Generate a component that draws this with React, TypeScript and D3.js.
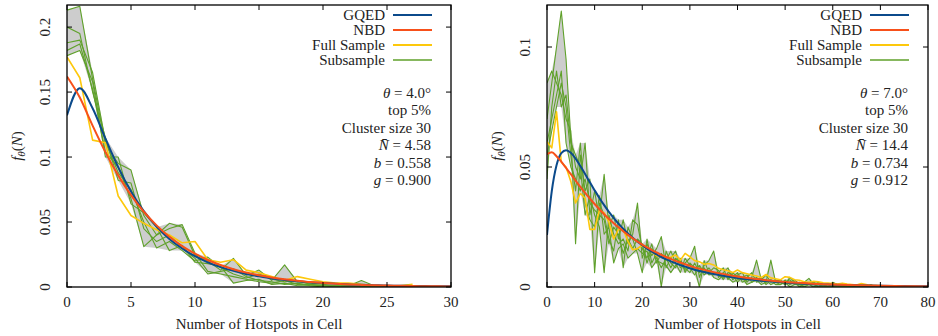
import * as d3 from "d3";
import React, { useEffect, useRef } from "react";

// ---------- left panel: theta = 4.0 deg ----------
const leftModelN = [0, 1, 2, 3, 4, 5, 6, 7, 8, 9, 10, 11, 12, 13, 14, 15, 16, 17, 18, 19, 20, 21, 22, 23, 24, 25, 26, 27, 28, 29, 30];
const leftGqed = [0.1321, 0.153, 0.1375, 0.1143, 0.0922, 0.0735, 0.0584, 0.0465, 0.037, 0.0296, 0.0237, 0.019, 0.0153, 0.0124, 0.01, 0.0082, 0.0066, 0.0054, 0.0044, 0.0036, 0.003, 0.0025, 0.002, 0.0017, 0.0014, 0.0011, 0.001, 0.0008, 0.0007, 0.0006, 0.0005];
const leftNbd = [0.162, 0.1458, 0.1242, 0.1038, 0.0859, 0.0707, 0.0579, 0.0474, 0.0386, 0.0315, 0.0256, 0.0208, 0.0169, 0.0137, 0.0111, 0.009, 0.0073, 0.0059, 0.0048, 0.0038, 0.0031, 0.0025, 0.002, 0.0016, 0.0013, 0.0011, 0.0009, 0.0007, 0.0006, 0.0005, 0.0004];
const leftFull = [0.177, 0.161, 0.113, 0.111, 0.07, 0.055, 0.049, 0.044, 0.04, 0.034, 0.035, 0.021, 0.019, 0.021, 0.013, 0.011, 0.008, 0.005, 0.008, 0.006, 0.004, 0.003, 0.003, 0.002, 0.001, 0.001, 0.001, 0.002];
const leftSubA = [0.213, 0.216, 0.16, 0.11, 0.095, 0.09, 0.055, 0.04, 0.049, 0.046, 0.024, 0.02, 0.013, 0.022, 0.009, 0.013, 0.005, 0.017, 0.004, 0.003, 0.002, 0.001, 0.001, 0.005, 0.001, 0];
const leftSubB = [0.188, 0.19, 0.165, 0.112, 0.088, 0.075, 0.05, 0.03, 0.035, 0.028, 0.02, 0.023, 0.015, 0.01, 0.007, 0.01, 0.006, 0.004, 0.005, 0.002, 0.001, 0.001, 0.001, 0, 0.001, 0];
const leftSubC = [0.182, 0.187, 0.152, 0.104, 0.092, 0.068, 0.031, 0.04, 0.045, 0.048, 0.026, 0.012, 0.01, 0.008, 0.006, 0.004, 0.003, 0.005, 0.002, 0.002, 0.001, 0.001, 0, 0, 0, 0];
const leftSubD = [0.178, 0.182, 0.158, 0.1, 0.1, 0.064, 0.057, 0.046, 0.028, 0.032, 0.019, 0.018, 0.016, 0.003, 0.005, 0.006, 0.002, 0.003, 0.001, 0.001, 0.001, 0, 0, 0, 0, 0];
const leftSubE = [0.2, 0.195, 0.15, 0.115, 0.082, 0.08, 0.045, 0.035, 0.04, 0.03, 0.022, 0.01, 0.012, 0.014, 0.008, 0.005, 0.004, 0.002, 0.003, 0.001, 0, 0, 0, 0, 0, 0];
const leftXTicks = [0, 5, 10, 15, 20, 25, 30];
const leftYTicks = [0, 0.05, 0.1, 0.15, 0.2];
const leftNotes = ["θ = 4.0°", "top 5%", "Cluster size 30", "N̄ = 4.58", "b = 0.558", "g = 0.900"];

// ---------- right panel: theta = 7.0 deg ----------
const rightModelN = [0, 1, 2, 3, 4, 5, 6, 7, 8, 9, 10, 11, 12, 13, 14, 15, 16, 17, 18, 19, 20, 21, 22, 23, 24, 25, 26, 27, 28, 29, 30, 35, 40, 45, 50, 55, 60, 65, 70, 75, 80];
const rightGqed = [0.0217, 0.0399, 0.0507, 0.0558, 0.057, 0.0559, 0.0535, 0.0504, 0.0471, 0.0436, 0.0403, 0.0371, 0.0341, 0.0313, 0.0288, 0.0264, 0.0243, 0.0223, 0.0205, 0.0189, 0.0174, 0.016, 0.0147, 0.0136, 0.0125, 0.0116, 0.0107, 0.0099, 0.0091, 0.0085, 0.0078, 0.0054, 0.0037, 0.0026, 0.0019, 0.0013, 0.00097, 0.0007, 0.00051, 0.00037, 0.00027];
const rightNbd = [0.0554, 0.0561, 0.0545, 0.0522, 0.0496, 0.047, 0.0443, 0.0417, 0.0392, 0.0368, 0.0346, 0.0324, 0.0303, 0.0284, 0.0266, 0.0249, 0.0232, 0.0217, 0.0203, 0.0189, 0.0177, 0.0165, 0.0154, 0.0144, 0.0134, 0.0125, 0.0117, 0.0109, 0.0102, 0.0095, 0.0088, 0.0062, 0.0044, 0.0031, 0.0021, 0.0015, 0.001, 0.0007, 0.0005, 0.00035, 0.00024];
const rightFull = [0.0605, 0.058, 0.073, 0.052, 0.05, 0.044, 0.035, 0.039, 0.037, 0.024, 0.024, 0.032, 0.031, 0.027, 0.02, 0.024, 0.024, 0.019, 0.0155, 0.016, 0.0175, 0.016, 0.0146, 0.013, 0.0126, 0.012, 0.0125, 0.0133, 0.0112, 0.014, 0.0126, 0.011, 0.0105, 0.0095, 0.0098, 0.0092, 0.0078, 0.0072, 0.0068, 0.006, 0.0071, 0.006, 0.0055, 0.005, 0.0046, 0.004, 0.0052, 0.0038, 0.0034, 0.003, 0.0043, 0.004, 0.003, 0.0028, 0.0022, 0.002, 0.0024, 0.0022, 0.0018, 0.0016, 0.0014, 0.0012, 0.0016, 0.0012, 0.001, 0.0008, 0.0014, 0.001, 0.0006, 0.0006, 0.0005, 0.0004, 0.0003, 0.0004, 0.0003, 0.0002, 0.0002, 0.0002, 0.0001];
const rightSubA = [0.07, 0.085, 0.1, 0.115, 0.095, 0.062, 0.05, 0.045, 0.06, 0.03, 0.04, 0.028, 0.047, 0.025, 0.03, 0.02, 0.028, 0.018, 0.022, 0.035, 0.012, 0.018, 0.013, 0.016, 0.021, 0.008, 0.012, 0.015, 0.008, 0.01, 0.012, 0.017, 0.004, 0.009, 0.011, 0.015, 0.004, 0.006, 0.008, 0.003, 0.005, 0.006, 0.002, 0.004, 0.0112, 0.003, 0.002, 0.0112, 0.002, 0.003, 0.001, 0.004, 0.002, 0.001, 0.002, 0.0036, 0.001, 0.002, 0.001, 0, 0.002, 0.001, 0, 0.001, 0, 0.001, 0, 0, 0.001, 0, 0.0008, 0, 0, 0.0004, 0, 0, 0, 0.0002, 0];
const rightSubB = [0.085, 0.09, 0.085, 0.08, 0.07, 0.065, 0.018, 0.055, 0.04, 0.045, 0.006, 0.035, 0.03, 0.02, 0.015, 0.028, 0.008, 0.025, 0.02, 0.014, 0.006, 0.02, 0.01, 0.014, 0, 0.015, 0.01, 0.008, 0.012, 0.006, 0.01, 0.008, 0, 0.011, 0.006, 0.008, 0.007, 0.003, 0.006, 0.005, 0.002, 0.004, 0.005, 0.002, 0.003, 0.004, 0.001, 0.003, 0.002, 0.001, 0.003, 0.001, 0.002, 0, 0.001, 0.002, 0.001, 0, 0.001, 0.001, 0, 0.001, 0, 0, 0.001, 0, 0, 0.0005, 0, 0, 0, 0.0003, 0, 0, 0, 0, 0, 0, 0];
const rightSubC = [0.045, 0.075, 0.09, 0.075, 0.08, 0.06, 0.055, 0.05, 0.03, 0.038, 0.03, 0.025, 0.006, 0.03, 0.022, 0.018, 0.02, 0.015, 0.028, 0.026, 0.016, 0.012, 0.018, 0.01, 0.014, 0.011, 0.015, 0.01, 0.006, 0.012, 0.009, 0.007, 0.009, 0.006, 0.008, 0.005, 0.006, 0.008, 0.003, 0.006, 0.004, 0.003, 0.004, 0.006, 0.002, 0.003, 0.005, 0.002, 0.003, 0.002, 0.002, 0.003, 0.001, 0.002, 0.001, 0.001, 0.002, 0.001, 0, 0.001, 0.001, 0, 0.001, 0, 0, 0.0005, 0, 0, 0, 0.0003, 0, 0, 0, 0, 0, 0, 0, 0, 0];
const rightSubD = [0.06, 0.07, 0.08, 0.09, 0.06, 0.05, 0.045, 0.04, 0.045, 0.035, 0.032, 0.03, 0.028, 0.018, 0.025, 0.022, 0.014, 0.02, 0.016, 0.02, 0.018, 0.01, 0.016, 0.012, 0.008, 0.012, 0.008, 0.012, 0.01, 0.008, 0.006, 0.01, 0.006, 0.008, 0.005, 0.006, 0.005, 0.004, 0.005, 0.004, 0.006, 0.002, 0.003, 0.003, 0.004, 0.002, 0.003, 0.001, 0.002, 0.002, 0.001, 0.002, 0.003, 0.001, 0.001, 0.001, 0, 0.001, 0.001, 0, 0, 0.0005, 0, 0.0005, 0, 0, 0, 0, 0, 0, 0, 0, 0, 0, 0, 0, 0, 0, 0];
const rightSubE = [0.055, 0.065, 0.075, 0.085, 0.075, 0.055, 0.04, 0.06, 0.035, 0.028, 0.025, 0.038, 0.022, 0.025, 0.01, 0.016, 0.018, 0.012, 0.014, 0.016, 0.014, 0.015, 0.008, 0.011, 0.01, 0.009, 0.006, 0.009, 0.011, 0.007, 0.008, 0.005, 0.008, 0.005, 0.007, 0.004, 0.003, 0.005, 0.004, 0.002, 0.003, 0.004, 0.001, 0.002, 0.003, 0.001, 0.002, 0.003, 0.001, 0.001, 0.002, 0, 0.001, 0.001, 0, 0.001, 0, 0, 0.0005, 0, 0.0005, 0, 0, 0, 0, 0, 0, 0, 0, 0, 0, 0, 0, 0, 0, 0, 0, 0, 0];
const rightXTicks = [0, 10, 20, 30, 40, 50, 60, 70, 80];
const rightYTicks = [0, 0.05, 0.1];
const rightNotes = ["θ = 7.0°", "top 5%", "Cluster size 30", "N̄ = 14.4", "b = 0.734", "g = 0.912"];

const legendLabels = ["GQED", "NBD", "Full Sample", "Subsample"];

const colors = {
  gqed: "#0b4a8b",
  nbd: "#f7501a",
  full: "#fdc80c",
  sub: "#5fa12a",
  band: "#cdcdcd",
};
const FONT = "'Liberation Serif', 'Times New Roman', serif";

interface PanelSpec {
  id: string;
  left: number;
  right: number;
  xMax: number;
  yMax: number;
  modelN: number[];
  gqed: number[];
  nbd: number[];
  full: number[];
  subs: number[][];
  xTicks: number[];
  yTicks: number[];
  notes: string[];
}

const TOP = 5;
const BOTTOM = 287;

function drawPanel(svg: any, p: PanelSpec) {
  const x = d3.scaleLinear().domain([0, p.xMax]).range([p.left, p.right]);
  const y = d3.scaleLinear().domain([0, p.yMax]).range([BOTTOM, TOP]);
  const g = svg.append("g");

  g.append("defs")
    .append("clipPath")
    .attr("id", `clip-${p.id}`)
    .append("rect")
    .attr("x", p.left)
    .attr("y", TOP)
    .attr("width", p.right - p.left)
    .attr("height", BOTTOM - TOP);

  const plot = g.append("g").attr("clip-path", `url(#clip-${p.id})`);

  // grey envelope of the subsamples
  const nSub = d3.max(p.subs, (s) => s.length) as number;
  const band = d3.range(nSub).map((i) => ({
    n: i,
    lo: d3.min(p.subs, (s) => s[i]) as number,
    hi: d3.max(p.subs, (s) => s[i]) as number,
  }));
  plot
    .append("path")
    .datum(band)
    .attr("fill", colors.band)
    .attr(
      "d",
      d3
        .area<any>()
        .x((d) => x(d.n))
        .y0((d) => y(d.lo))
        .y1((d) => y(d.hi))
    );

  const line = d3
    .line<number>()
    .x((_d, i) => x(i))
    .y((d) => y(d));

  p.subs.forEach((s) => {
    plot
      .append("path")
      .datum(s)
      .attr("fill", "none")
      .attr("stroke", colors.sub)
      .attr("stroke-width", 1.1)
      .attr("stroke-linejoin", "round")
      .attr("d", line);
  });

  plot
    .append("path")
    .datum(p.full)
    .attr("fill", "none")
    .attr("stroke", colors.full)
    .attr("stroke-width", 1.6)
    .attr("stroke-linejoin", "round")
    .attr("d", line);

  const model = d3
    .line<number>()
    .curve(d3.curveMonotoneX)
    .x((_d, i) => x(p.modelN[i]))
    .y((d) => y(d));

  plot
    .append("path")
    .datum(p.gqed)
    .attr("fill", "none")
    .attr("stroke", colors.gqed)
    .attr("stroke-width", 2)
    .attr("d", model);
  plot
    .append("path")
    .datum(p.nbd)
    .attr("fill", "none")
    .attr("stroke", colors.nbd)
    .attr("stroke-width", 2)
    .attr("d", model);

  // frame and inward ticks (mirrored)
  g.append("rect")
    .attr("x", p.left)
    .attr("y", TOP)
    .attr("width", p.right - p.left)
    .attr("height", BOTTOM - TOP)
    .attr("fill", "none")
    .attr("stroke", "#000")
    .attr("stroke-width", 1.3);

  p.xTicks.forEach((t) => {
    g.append("line")
      .attr("x1", x(t)).attr("x2", x(t))
      .attr("y1", BOTTOM).attr("y2", BOTTOM - 5)
      .attr("stroke", "#000");
    g.append("line")
      .attr("x1", x(t)).attr("x2", x(t))
      .attr("y1", TOP).attr("y2", TOP + 5)
      .attr("stroke", "#000");
    g.append("text")
      .attr("x", x(t))
      .attr("y", 307)
      .attr("text-anchor", "middle")
      .attr("font-family", FONT)
      .attr("font-size", 15)
      .attr("fill", "#222")
      .text(t);
  });

  p.yTicks.forEach((t) => {
    g.append("line")
      .attr("x1", p.left).attr("x2", p.left + 5)
      .attr("y1", y(t)).attr("y2", y(t))
      .attr("stroke", "#000");
    g.append("line")
      .attr("x1", p.right).attr("x2", p.right - 5)
      .attr("y1", y(t)).attr("y2", y(t))
      .attr("stroke", "#000");
    g.append("text")
      .attr("transform", `translate(${p.left - 22},${y(t)}) rotate(-90)`)
      .attr("text-anchor", "middle")
      .attr("dominant-baseline", "central")
      .attr("font-family", FONT)
      .attr("font-size", 15)
      .attr("fill", "#222")
      .text(String(t));
  });

  // axis titles
  g.append("text")
    .attr("x", (p.left + p.right) / 2)
    .attr("y", 329)
    .attr("text-anchor", "middle")
    .attr("font-family", FONT)
    .attr("font-size", 15)
    .attr("fill", "#222")
    .text("Number of Hotspots in Cell");

  const yt = g
    .append("text")
    .attr("transform", `translate(${p.left - 45},${(TOP + BOTTOM) / 2}) rotate(-90)`)
    .attr("text-anchor", "middle")
    .attr("font-family", FONT)
    .attr("font-size", 15)
    .attr("fill", "#222");
  yt.append("tspan").attr("font-style", "italic").text("f");
  yt.append("tspan").attr("font-style", "italic").attr("font-size", 11).attr("dy", 3).text("θ");
  yt.append("tspan").attr("dy", -3).text("(");
  yt.append("tspan").attr("font-style", "italic").text("N");
  yt.append("tspan").text(")");

  // legend
  const legendColors = [colors.gqed, colors.nbd, colors.full, colors.sub];
  legendLabels.forEach((lab, i) => {
    const cy = 15 + i * 15;
    g.append("text")
      .attr("x", p.right - 66)
      .attr("y", cy + 5)
      .attr("text-anchor", "end")
      .attr("font-family", FONT)
      .attr("font-size", 15)
      .attr("fill", "#222")
      .text(lab);
    g.append("line")
      .attr("x1", p.right - 58)
      .attr("x2", p.right - 19)
      .attr("y1", cy)
      .attr("y2", cy)
      .attr("stroke", legendColors[i])
      .attr("stroke-width", i === 3 ? 1.3 : 2);
  });

  // annotations
  p.notes.forEach((note, i) => {
    const t = g
      .append("text")
      .attr("x", p.right - 20)
      .attr("y", 98 + i * 17.4)
      .attr("text-anchor", "end")
      .attr("font-family", FONT)
      .attr("font-size", 15)
      .attr("fill", "#222");
    const eq = note.indexOf(" = ");
    if (eq > 0) {
      t.append("tspan").attr("font-style", "italic").text(note.slice(0, eq));
      t.append("tspan").text(note.slice(eq));
    } else {
      t.text(note);
    }
  });
}

const leftSpec: PanelSpec = {
  id: "left",
  left: 67,
  right: 451,
  xMax: 30,
  yMax: 0.217,
  modelN: leftModelN,
  gqed: leftGqed,
  nbd: leftNbd,
  full: leftFull,
  subs: [leftSubA, leftSubB, leftSubC, leftSubD, leftSubE],
  xTicks: leftXTicks,
  yTicks: leftYTicks,
  notes: leftNotes,
};

const rightSpec: PanelSpec = {
  id: "right",
  left: 547,
  right: 928,
  xMax: 80,
  yMax: 0.1175,
  modelN: rightModelN,
  gqed: rightGqed,
  nbd: rightNbd,
  full: rightFull,
  subs: [rightSubA, rightSubB, rightSubC, rightSubD, rightSubE],
  xTicks: rightXTicks,
  yTicks: rightYTicks,
  notes: rightNotes,
};

const App: React.FC = () => {
  const svgRef = useRef<SVGSVGElement | null>(null);

  useEffect(() => {
    const svg = d3.select(svgRef.current);
    svg.selectAll("*").remove();
    drawPanel(svg, leftSpec);
    drawPanel(svg, rightSpec);
  }, []);

  return (
    <svg
      ref={svgRef}
      width={938}
      height={336}
      style={{ position: "absolute", left: 0, top: 0, background: "#fff" }}
    />
  );
};

export default App;
